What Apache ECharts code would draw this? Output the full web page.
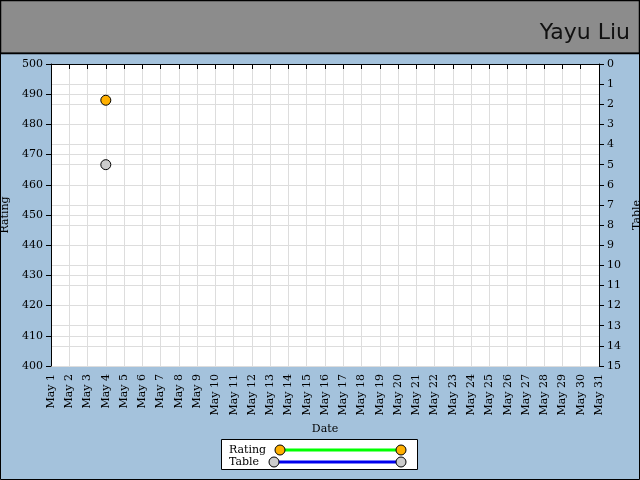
<!DOCTYPE html><html><head><meta charset="utf-8"><script src="https://cdn.jsdelivr.net/npm/echarts@6/dist/echarts.min.js"></script>
<style>html,body{margin:0;padding:0;background:#a4c2dc}#c{width:640px;height:480px}</style></head><body><div id="c"></div><script>
const dates = Array.from({length:31},(_,i)=>'May '+(i+1));
const rating = [null,null,null,488].concat(Array(27).fill(null));
const table = [null,null,null,5].concat(Array(27).fill(null));
const ff = 'DejaVu Serif';
const ch = echarts.init(document.getElementById('c'));
ch.setOption({
  animation:false,
  backgroundColor:'#a4c2dc',
  textStyle:{fontFamily:ff},
  grid:{left:51,right:41,top:64,bottom:114,outerBoundsMode:'none',containLabel:false,show:true,backgroundColor:'#fff',borderWidth:0},
  xAxis:{type:'category',data:dates,boundaryGap:false,name:'Date',nameLocation:'middle',nameGap:58,
    nameTextStyle:{color:'#000',fontSize:11,fontFamily:ff},
    axisLine:{lineStyle:{color:'#000'}},axisTick:{show:true,lineStyle:{color:'#000'}},
    axisLabel:{rotate:90,interval:0,color:'#000',fontSize:11,fontFamily:ff},
    splitLine:{show:true,lineStyle:{color:'#ddd'}}},
  yAxis:[{type:'value',min:400,max:500,interval:10,name:'Rating',nameLocation:'middle',nameGap:34,
    nameTextStyle:{color:'#000',fontSize:11,fontFamily:ff},
    axisLine:{show:true,lineStyle:{color:'#000'}},axisTick:{show:true},
    axisLabel:{color:'#000',fontSize:11,fontFamily:ff},splitLine:{lineStyle:{color:'#ddd'}}},
   {type:'value',min:0,max:15,interval:1,inverse:true,position:'right',name:'Table',nameLocation:'middle',nameGap:26,
    nameTextStyle:{color:'#000',fontSize:11,fontFamily:ff},
    axisLine:{show:true,lineStyle:{color:'#000'}},axisTick:{show:true},
    axisLabel:{color:'#000',fontSize:11,fontFamily:ff},splitLine:{show:true,lineStyle:{color:'#ddd'}}}],
  series:[
   {name:'Rating',type:'line',data:rating,yAxisIndex:0,symbol:'circle',symbolSize:10,lineStyle:{color:'#00ff00',width:3},
    itemStyle:{color:'#ffb000',borderColor:'#000',borderWidth:1}},
   {name:'Table',type:'line',data:table,yAxisIndex:1,symbol:'circle',symbolSize:10,lineStyle:{color:'#0000ee',width:3},
    itemStyle:{color:'#ccc',borderColor:'#000',borderWidth:1}}],
  graphic:[
   {type:'rect',shape:{x:0.5,y:0.5,width:639,height:53},style:{fill:'#8c8c8c',stroke:'#000',lineWidth:1.5}},
   {type:'rect',shape:{x:0.5,y:53,width:639,height:426.5},style:{fill:'none',stroke:'#000',lineWidth:1}},
   {type:'text',right:10,top:22,style:{text:'Yayu Liu',font:'22px "DejaVu Sans"',fill:'#111'}},
   {type:'rect',shape:{x:221.5,y:439.5,width:196,height:30},style:{fill:'#fff',stroke:'#000',lineWidth:1}},
   {type:'text',x:229,y:445,style:{text:'Rating',font:'11px "DejaVu Serif"',fill:'#000'}},
   {type:'text',x:229,y:457,style:{text:'Table',font:'11px "DejaVu Serif"',fill:'#000'}},
   {type:'line',shape:{x1:280,y1:450,x2:401,y2:450},style:{stroke:'#00ff00',lineWidth:3}},
   {type:'line',shape:{x1:274,y1:462,x2:401,y2:462},style:{stroke:'#0000ee',lineWidth:3}},
   {type:'circle',shape:{cx:280,cy:450,r:5},style:{fill:'#ffb000',stroke:'#000'}},
   {type:'circle',shape:{cx:401,cy:450,r:5},style:{fill:'#ffb000',stroke:'#000'}},
   {type:'circle',shape:{cx:274,cy:462,r:5},style:{fill:'#ccc',stroke:'#000'}},
   {type:'circle',shape:{cx:401,cy:462,r:5},style:{fill:'#ccc',stroke:'#000'}}]
});
</script></body></html>
